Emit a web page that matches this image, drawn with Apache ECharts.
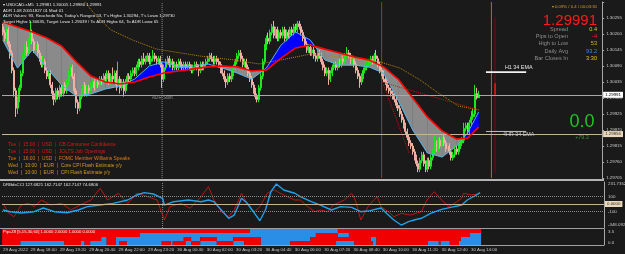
<!DOCTYPE html>
<html><head><meta charset="utf-8">
<script src="https://cdn.jsdelivr.net/npm/echarts@6/dist/echarts.min.js"></script>
<style>html,body{margin:0;padding:0;background:#1a1a1a;overflow:hidden}#c{width:625px;height:254px}</style>
</head><body><div id="c"></div>
<script>
// Prices stored in pips above BASE (1 pip = 0.0001)
const BASE = 1.29705;
const firstOpen = 52;
const closes = [50,48,51,46,43,37,30,24,27,31,
36,42,45,43,47,50,47,44,46,43,
41,39,40,37,35,36,32,29,27,30,
28,31,29,32,30,33,36,38,35,30,
26,24,28,30,32,29,31,30,32,33,
31,33,32,34,33,35,34,36,33,35,
34,36,32,34,31,33,30,33,35,34,
36,37,36,38,40,39,41,40,41,42,
40,41,42,41,40,41,39,34,38,40,
41,39,40,38,39,38,40,39,38,39,
38,39,38,37,38,39,38,37,39,38,
39,40,41,42,41,40,41,40,39,37,
36,34,33,35,34,36,38,40,42,43,
41,39,40,38,36,34,32,30,28,27,
31,35,40,45,48,47,50,52,49,51,
48,50,49,51,48,50,49,51,50,52,
51,53,52,50,48,46,44,45,43,44,
42,41,43,42,40,38,36,37,34,36,
38,39,38,40,39,41,40,42,43,42,
40,41,39,37,35,33,35,37,38,39,
40,41,40,42,41,39,37,36,34,33,
31,30,29,28,27,25,24,22,20,18,
16,14,12,11,9,7,5,3,6,8,
5,3,6,4,7,9,12,10,13,11,
14,12,10,11,9,7,8,10,9,11,
12,13,17,18,16,19,21,22,29,27.6,28.6];
const highs = [53,51,52,52,47,44,38,31,28,32,
37,43,46,47,48,54,51,48,47,47,
44,42,42,41,38,37,37,33,30,31,
31,32,32,33,33,34,37,39,39,36,
31,27,29,31,33,33,32,32,33,34,
34,34,34,35,35,36,36,37,37,36,
38,37,37,40,35,34,34,34,36,36,
37,38,38,39,41,41,42,43,42,43,
43,42,44,43,42,42,42,40,39,41,
42,42,41,41,40,40,41,41,40,40,
40,40,40,39,39,40,40,39,40,40,
40,41,42,43,43,42,42,42,41,40,
38,37,35,36,36,37,39,41,43,44,
44,42,41,41,39,37,35,33,31,29,
32,36,41,46,49,50,51,53,54,52,
52,51,51,52,52,51,51,52,52,53,
53,54,54,53,51,49,47,46,46,45,
45,43,44,44,43,41,39,38,38,37,
39,40,40,41,41,42,42,43,45,44,
43,42,42,40,38,36,36,38,39,40,
41,42,42,43,44,42,40,38,37,35,
34,32,31,30,29,28,26,25,23,21,
19,17,15,13,12,10,8,6,7,9,
9,6,7,7,8,10,15,13,14,14,
15,15,13,12,12,10,9,11,11,12,
13,14,19,19,19,20,23,24,32,31,30];
const lows = [49,47,47,45,41,36,28,21,22,26,
30,35,41,42,42,46,46,43,43,42,
40,38,38,36,34,34,31,27,25,26,
27,27,28,28,29,29,32,35,34,29,
24,22,23,27,29,28,28,29,29,31,
30,30,31,31,32,32,33,33,32,32,
33,33,30,31,29,30,28,29,32,33,
33,35,35,35,37,38,38,39,39,40,
39,39,40,40,39,39,38,31,33,37,
39,38,38,37,37,37,37,38,37,37,
37,37,37,36,36,37,37,35,36,37,
37,38,39,40,40,39,39,39,38,36,
35,33,31,32,33,33,35,37,39,41,
40,38,38,37,35,33,31,29,27,26,
26,30,34,39,44,46,46,49,48,48,
47,47,48,48,47,47,48,48,49,49,
50,50,51,49,47,45,43,43,42,42,
41,40,40,41,39,37,35,35,32,33,
35,37,37,37,38,38,39,39,41,41,
39,39,38,36,34,31,32,34,36,37,
38,39,39,39,40,38,36,35,33,32,
30,29,28,27,26,24,23,21,19,17,
15,13,11,10,8,6,4,2,2,5,
4,2,2,3,3,6,8,9,9,10,
10,11,9,9,8,6,6,7,8,8,
10,11,12,16,15,15,18,20,21,27,27.5];

// 34 EMA band samples (bar index -> pips)
const emaIdx  = [0,8,16,24,32,40,48,56,64,72,80,88,96,104,112,120,128,136,144,152,160,168,176,184,192,200,208,216,224,232,240,248,254,260];
const emaSlow = [53.6,51.9,50.2,48.1,45.4,40,35.1,33.0,32.3,33.0,34.7,36.1,36.8,37.5,38.2,38.5,38.2,36.8,37.1,41.2,44.7,45.7,44.3,43.0,41.6,40.6,38.2,34.0,27.5,21.0,16.2,13.4,13.7,17.5];
const emaFast = [47.4,37.8,44.0,37.8,32.0,28.2,28.9,30.6,31.6,34.0,38.5,39.9,38.2,38.5,39.2,37.8,36.1,34.0,37.8,45.7,50.2,47.4,40.6,38.8,38.8,38.2,36.1,26.8,16.5,8.6,7.2,11.0,15.5,22.7];
// slow dotted MA
const maIdx = [44,51,59,71,84,97,108,126,140,157,168,184,206,217,228,238,249,260];
const maVal = [61,55.7,50.9,47.4,44.3,43.0,41.9,40.6,39.2,41.2,42.6,41.6,39.9,37.8,33.7,29.2,24.75,23.4];
const trend1 = [[207,33],[260,23.4]];
const trend2 = [[208,32],[222,8.6]];
const bidLevel = 28.6, bidText = '1.29991';
const adrLevel = 15.1, adrText = '1.29856';
const dayBreakIdx = 87;
const newsIdx = [207, 267];
const rangeIdx = 269, dayRange = [1.7, 55.3], openRange = [28.6, 32.6];
const emaLevelIdx = [264, 286], h1Level = 36.4, h4Level = 16.0;

// CCI panel
const cciBlue = [[0,-81],[4,-104],[10,-122],[17,-104],[22,-54],[28,-104],[35,-118],[41,-81],[46,-36],[53,-14],[60,9],[68,54],[73,122],[77,153],[82,135],[87,77],[88,-14],[93,31],[101,54],[108,31],[112,54],[115,31],[119,-81],[123,-193],[126,-149],[130,77],[133,14],[137,-122],[140,-226],[143,-81],[146,166],[149,270],[153,189],[159,145],[162,99],[168,31],[173,-14],[179,-81],[184,-36],[190,-45],[195,-104],[200,-90],[206,-54],[210,-149],[213,-216],[217,-284],[221,-239],[224,-216],[228,-193],[233,-126],[239,-72],[244,-45],[250,-14],[253,54],[257,108],[260,153]];
const cciRed = [[0,9],[3,-122],[6,-172],[10,-14],[14,9],[17,-36],[21,54],[26,-14],[32,9],[37,-81],[42,-14],[48,54],[53,212],[57,54],[63,145],[68,9],[73,145],[79,99],[84,54],[88,-216],[91,-36],[97,9],[102,-58],[108,99],[112,234],[115,54],[119,-104],[123,-172],[126,-81],[130,145],[133,9],[137,-104],[140,-36],[144,145],[148,189],[151,145],[155,99],[159,54],[162,54],[166,-36],[170,-104],[173,-81],[177,-104],[180,-14],[186,54],[190,145],[192,54],[195,-216],[199,-36],[202,54],[204,99],[206,-36],[210,-104],[213,-172],[217,-126],[222,-149],[228,-104],[231,54],[235,166],[239,54],[243,-36],[246,9],[250,77],[251,145],[255,122],[259,135]];
const cciLevels = [100, -100];
const cciLabels = ['231.7352', '100', '-100', '-348.0929'];

// Pips heat rows: [startBar, endBar, 0=red 1=blue]
const heatRows = [
 [[0,135,0],[135,183,1],[183,261,0]],
 [[0,75,0],[75,171,1],[171,183,0],[183,189,1],[189,255,0],[255,261,1]],
 [[0,54,0],[54,57,1],[57,62,0],[62,99,1],[99,103,0],[103,108,1],[108,117,0],[117,126,1],[126,141,0],[141,168,1],[168,201,0],[201,204,1],[204,250,0],[250,261,1]],
 [[0,10,0],[10,34,1],[34,43,0],[43,45,1],[45,48,0],[48,57,1],[57,62,0],[62,64,1],[64,68,0],[68,87,1],[87,92,0],[92,93,1],[93,100,0],[100,103,1],[103,108,0],[108,117,1],[117,126,0],[126,132,1],[132,141,0],[141,157,1],[157,182,0],[182,192,1],[192,202,0],[202,204,1],[204,232,0],[232,238,1],[238,239,0],[239,244,1],[244,249,0],[249,261,1]]
];

const timeLabels = ['29 Aug 2022','29 Aug 18:00','29 Aug 19:20','29 Aug 20:40','29 Aug 22:00','29 Aug 23:20','30 Aug 00:40','30 Aug 02:00','30 Aug 03:20','30 Aug 04:40','30 Aug 06:00','30 Aug 07:20','30 Aug 08:40','30 Aug 10:00','30 Aug 11:20','30 Aug 12:40','30 Aug 14:00'];
const newsLines = ['Tue  |  15:00  |  USD  |  CB Consumer Confidence','Tue  |  15:00  |  USD  |  JOLTS Job Openings','Tue  |  16:00  |  USD  |  FOMC Member Williams Speaks','Wed  |  10:00  |  EUR  |  Core CPI Flash Estimate y/y','Wed  |  10:00  |  EUR  |  CPI Flash Estimate y/y'];
const newsColors = ['#e01818','#e01818','#e07818','#d89a20','#d89a20'];
const headerLines = ['\u25BE USDCAD.sM5  1.29981 1.30005 1.29980 1.29991','ADR 1.08 20051827 01 Mod 01','ADR Values: 93, Reached= No, Today\'s Range= 53, T\'s High= 1.30294, T\'s Low= 1.29730','Target High= 1.30635, Target Low= 1.29039 / To ADR High= 64, To ADR Low= 65'];
const infoLabels = ['Spread','Pips to Open','High to Low','Daily Avg','Bar Closes In'];
const infoValues = ['0.4','-4','53','93.2','3:30'];
const infoColors = ['#e8c020','#ff2020','#d8b020','#2a8cff','#e8c020'];

const N_CAT = 328;
const cats = []; for (let k = 0; k < N_CAT; k++) cats.push(String(k));
const labelAt = {}; timeLabels.forEach((t, k) => { labelAt[k === 0 ? 0 : 15 + 16 * (k - 1)] = t; });
const candles = closes.map((c, i) => [i === 0 ? firstOpen : closes[i - 1], c, lows[i], highs[i]]);
const FONT = '"Liberation Sans", Arial, sans-serif';

function bandItem(params, api) {
  const k = api.value(1);
  const a0 = api.coord([emaIdx[k], emaSlow[k]]), a1 = api.coord([emaIdx[k+1], emaSlow[k+1]]);
  const b0 = api.coord([emaIdx[k], emaFast[k]]), b1 = api.coord([emaIdx[k+1], emaFast[k+1]]);
  const d0 = emaFast[k] - emaSlow[k], d1 = emaFast[k+1] - emaSlow[k+1];
  const col = d => d > 0 ? '#0000ff' : '#8a8a8a';
  const poly = (pts, f) => ({type: 'polygon', shape: {points: pts}, style: {fill: f, stroke: f, lineWidth: 0.4}});
  const ch = [];
  if (d0 * d1 >= 0) ch.push(poly([a0, a1, b1, b0], col(d0 + d1)));
  else {
    const t = d0 / (d0 - d1);
    const p = [a0[0] + (a1[0] - a0[0]) * t, a0[1] + (a1[1] - a0[1]) * t];
    ch.push(poly([a0, p, b0], col(d0)));
    ch.push(poly([p, a1, b1], col(d1)));
  }
  return {type: 'group', children: ch};
}
function heatItem(params, api) {
  const s = api.value(0), e = api.value(1), r = api.value(2), c = api.value(3);
  const bw = api.size([1, 0])[0];
  const p0 = api.coord([s, r]), p1 = api.coord([e, r + 1]);
  return {type: 'rect', shape: {x: p0[0] - bw / 2, y: Math.min(p0[1], p1[1]), width: p1[0] - p0[0], height: Math.abs(p1[1] - p0[1])},
    style: {fill: c ? '#2a8ee6' : '#f00000'}};
}
const heatData = [];
heatRows.forEach((row, r) => row.forEach(seg => heatData.push([seg[0], seg[1], r, seg[2]])));

function vline(idx, y0, y1, color, type, width, xi) {
  return {type: 'line', xAxisIndex: xi, yAxisIndex: xi, data: [[idx, y0], [idx, y1]], symbol: 'none', silent: true, z: 2,
    lineStyle: {color, type, width}};
}
function txt(x, y, text, fill, size, align, weight) {
  return {type: 'text', x, y, silent: true, z: 100,
    style: {text, fill, font: (weight || 'normal') + ' ' + size + 'px ' + FONT, textAlign: align || 'left', textVerticalAlign: 'middle', verticalAlign: 'middle'}};
}

const chart = echarts.init(document.getElementById('c'));
const xBase = {type: 'category', data: cats, boundaryGap: true, axisLine: {show: false}, axisTick: {show: false}, axisLabel: {show: false}, splitLine: {show: false}};
const option = {
  animation: false,
  backgroundColor: '#1a1a1a',
  grid: [
    {left: 2, right: 21, top: 2, height: 176},
    {left: 2, right: 21, top: 182, height: 46},
    {left: 2, right: 21, top: 229, height: 16}
  ],
  xAxis: [
    Object.assign({gridIndex: 0}, xBase),
    Object.assign({gridIndex: 1}, xBase),
    Object.assign({}, xBase, {gridIndex: 2,
      axisTick: {show: true, length: 2, alignWithLabel: true, interval: i => labelAt[i] !== undefined, lineStyle: {color: '#a0a0a0'}},
      axisLabel: {show: true, interval: i => labelAt[i] !== undefined, formatter: (v, i) => labelAt[i] || '', align: 'left', fontSize: 4.4, color: '#c8c8c8', margin: 3, fontFamily: FONT}})
  ],
  yAxis: [
    {gridIndex: 0, position: 'right', min: 0, max: 60.5, interval: 5.5, splitLine: {show: false},
      axisLine: {show: true, lineStyle: {color: '#a8a8a8'}}, axisTick: {show: true, length: 2, lineStyle: {color: '#a8a8a8'}},
      axisLabel: {fontSize: 4.4, color: '#c8c8c8', margin: 4, fontFamily: FONT, formatter: v => v > 58 ? '' : (BASE + v / 10000).toFixed(5)}},
    {gridIndex: 1, position: 'right', min: -324, max: 297, splitLine: {show: false}, axisLabel: {show: false}, axisTick: {show: false},
      axisLine: {show: true, lineStyle: {color: '#a8a8a8'}}},
    {gridIndex: 2, position: 'right', min: 0, max: 4, inverse: true, splitLine: {show: false}, axisLabel: {show: false}, axisTick: {show: false},
      axisLine: {show: true, lineStyle: {color: '#a8a8a8'}}}
  ],
  series: [
    {type: 'custom', xAxisIndex: 0, yAxisIndex: 0, renderItem: bandItem, z: 1, silent: true,
      data: emaIdx.slice(0, -1).map((x, k) => [x, k]), encode: {x: 0, y: 1}},
    vline(dayBreakIdx, 0, 60.5, '#8c8c8c', 'dotted', 1, 0),
    vline(newsIdx[0], 0, 60.5, '#8a4524', 'solid', 1, 0),
    vline(newsIdx[1], 0, 60.5, '#8c7a36', 'solid', 1, 0),
    vline(rangeIdx, dayRange[0], dayRange[1], '#8b0000', 'solid', 1, 0),
    vline(rangeIdx, openRange[0], openRange[1], '#ff1010', 'solid', 1.5, 0),
    {type: 'candlestick', xAxisIndex: 0, yAxisIndex: 0, data: candles, barWidth: 1.5, z: 3, silent: true,
      itemStyle: {color: '#1ee81e', color0: '#f2b0a4', borderColor: '#1ee81e', borderColor0: '#f2b0a4', borderWidth: 1},
      markLine: {symbol: 'none', silent: true, animation: false, data: [
        {yAxis: bidLevel, lineStyle: {color: '#a8a8a8', type: 'solid', width: 1},
          label: {show: true, position: 'end', formatter: bidText, backgroundColor: '#ffffff', color: '#000', fontSize: 4.4, padding: [1, 2], distance: 1, fontFamily: FONT}},
        {yAxis: adrLevel, lineStyle: {color: '#c8b496', type: 'solid', width: 1},
          label: {show: true, position: 'end', formatter: adrText, backgroundColor: '#ead8ba', color: '#303030', fontSize: 4.4, padding: [1, 2], distance: 1, fontFamily: FONT}}
      ]}},
    {type: 'line', xAxisIndex: 0, yAxisIndex: 0, data: maIdx.map((x, k) => [x, maVal[k]]), symbol: 'none', z: 4, silent: true,
      lineStyle: {color: '#b8860b', type: 'dotted', width: 1}},
    {type: 'line', xAxisIndex: 0, yAxisIndex: 0, data: emaIdx.map((x, k) => [x, emaFast[k]]), symbol: 'none', z: 4, silent: true,
      lineStyle: {color: '#56b4e6', width: 1}},
    {type: 'line', xAxisIndex: 0, yAxisIndex: 0, data: emaIdx.map((x, k) => [x, emaSlow[k]]), symbol: 'none', z: 5, silent: true,
      lineStyle: {color: '#ff0000', width: 1.6}},
    {type: 'line', xAxisIndex: 0, yAxisIndex: 0, data: trend1, symbol: 'none', z: 4, silent: true, lineStyle: {color: '#d01010', type: 'dotted', width: 1}},
    {type: 'line', xAxisIndex: 0, yAxisIndex: 0, data: trend2, symbol: 'none', z: 4, silent: true, lineStyle: {color: '#d01010', type: 'dotted', width: 1}},
    {type: 'line', xAxisIndex: 0, yAxisIndex: 0, data: emaLevelIdx.map(x => [x, h1Level]), symbol: 'none', z: 4, silent: true, lineStyle: {color: '#f2f2f2', width: 1.6}},
    {type: 'line', xAxisIndex: 0, yAxisIndex: 0, data: emaLevelIdx.map(x => [x, h4Level]), symbol: 'none', z: 4, silent: true, lineStyle: {color: '#c0c0c0', width: 1}},
    // CCI panel
    vline(dayBreakIdx, -324, 297, '#8c8c8c', 'dotted', 1, 1),
    {type: 'line', xAxisIndex: 1, yAxisIndex: 1, data: cciRed, symbol: 'none', z: 3, silent: true, lineStyle: {color: '#c01414', width: 1},
      markLine: {symbol: 'none', silent: true, animation: false, data: [
        {yAxis: cciLevels[0], lineStyle: {color: '#8a8a8a', type: 'dotted', width: 1}, label: {show: false}},
        {yAxis: cciLevels[1], lineStyle: {color: '#8a8a8a', type: 'dotted', width: 1}, label: {show: false}},
        {yAxis: 0, lineStyle: {color: '#c8b496', type: 'solid', width: 1},
          label: {show: true, position: 'end', formatter: '0.0000', backgroundColor: '#ead8ba', color: '#303030', fontSize: 4.4, padding: [1, 2], distance: 1, fontFamily: FONT}}
      ]}},
    {type: 'line', xAxisIndex: 1, yAxisIndex: 1, data: cciBlue, symbol: 'none', z: 4, silent: true, lineStyle: {color: '#20a0e8', width: 1.4}},
    // heat panel
    {type: 'custom', xAxisIndex: 2, yAxisIndex: 2, renderItem: heatItem, data: heatData, encode: {x: [0, 1], y: 2}, silent: true, z: 2}
  ]
};
chart.setOption(option);

const g = [];
g.push({type: 'line', shape: {x1: 0, y1: 180, x2: 604, y2: 180}, style: {stroke: '#b4b4b4', lineWidth: 2}, silent: true, z: 90});
g.push({type: 'line', shape: {x1: 0, y1: 228.5, x2: 604, y2: 228.5}, style: {stroke: '#a0a0a0', lineWidth: 1}, silent: true, z: 90});
g.push({type: 'line', shape: {x1: 0, y1: 245.5, x2: 604, y2: 245.5}, style: {stroke: '#a0a0a0', lineWidth: 1}, silent: true, z: 90});
headerLines.forEach((t, k) => g.push(txt(3, 5 + k * 5.5, t, '#e4e4e4', 4.3)));
newsLines.forEach((t, k) => g.push(txt(8, 145 + k * 6.8, t, newsColors[k], 4.9)));
g.push(txt(152, 97.5, 'ADR Start', '#8a8a8a', 4.6));
g.push(txt(597, 7, '\u25BE 0.09% / 0.4 / 00:03:30', '#d89a30', 4.3, 'right'));
g.push(txt(597, 21, bidText, '#ff1a1a', 15, 'right'));
infoLabels.forEach((t, k) => {
  g.push(txt(568, 29.5 + k * 7.2, t, '#8c8c8c', 5.6, 'right'));
  g.push(txt(597, 29.5 + k * 7.2, infoValues[k], infoColors[k], 5.6, 'right'));
});
g.push(txt(582, 122, '0.0', '#22c422', 18, 'center'));
g.push(txt(582, 137.5, '+79.3', '#2e9a2e', 5.4, 'center'));
const pH1 = chart.convertToPixel({xAxisIndex: 0, yAxisIndex: 0}, [emaLevelIdx[0], h1Level]);
const pH4 = chart.convertToPixel({xAxisIndex: 0, yAxisIndex: 0}, [emaLevelIdx[0], h4Level]);
g.push(txt(pH1[0] + 19, pH1[1] - 5, 'H1 34 EMA', '#e8e8e8', 5.4));
g.push(txt(pH4[0] + 17, pH4[1] + 3.5, '4HR 34 EMA', '#c8c8c8', 5.4));
g.push(txt(3, 184.5, 'DRBdsCCI 127.6821 162.7147 162.7147 74.6806', '#e4e4e4', 4.3));
g.push(txt(3, 232, 'PipsZ8 [5,15,30,60] 1.0000 2.0000 1.0000 0.0000', '#f0f0f0', 4.2));
// CCI axis labels
const yTop = 184, yBot = 225;
g.push(txt(608, yTop, cciLabels[0], '#c8c8c8', 4.4));
g.push(txt(608, chart.convertToPixel({yAxisIndex: 1}, cciLevels[0]), cciLabels[1], '#c8c8c8', 4.4));
g.push(txt(608, chart.convertToPixel({yAxisIndex: 1}, cciLevels[1]), cciLabels[2], '#c8c8c8', 4.4));
g.push(txt(608, yBot, cciLabels[3], '#c8c8c8', 4.4));
g.push(txt(608, 232, '3.5', '#c8c8c8', 4.4));
g.push(txt(608, 242.5, '0.0', '#c8c8c8', 4.4));
chart.setOption({graphic: g});
</script></body></html>
